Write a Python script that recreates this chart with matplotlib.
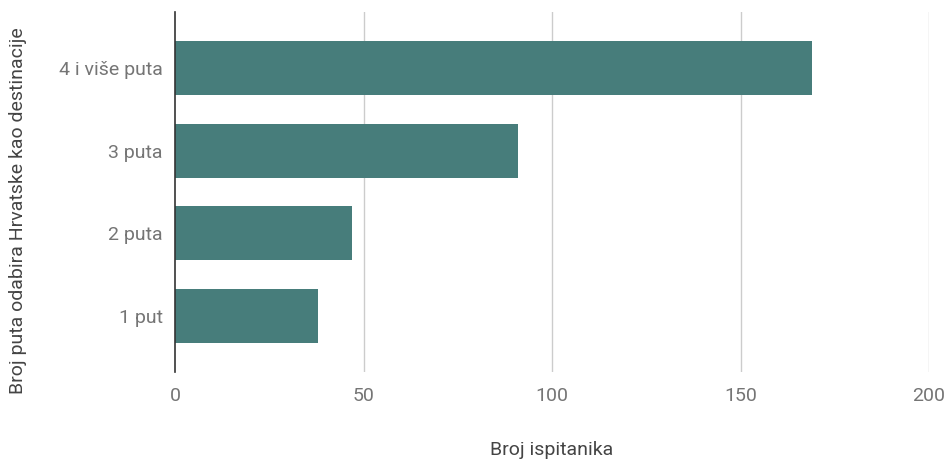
import numpy as np
import matplotlib.pyplot as plt

plt.rcParams['font.family'] = ['Roboto', 'DejaVu Sans']

#=== Data ===#
categories = ['1 put', '2 puta', '3 puta', '4 i više puta']
counts = [38, 47, 91, 169]
x_ticks = [0, 50, 100, 150, 200]

bar_color = '#477d7b'

fig = plt.figure(figsize=(9.46, 4.59), dpi=100)
ax = fig.add_axes([175/946, (459-372)/459, (929-175)/946, 360/459])

y_pos = np.arange(len(categories))
ax.barh(y_pos, counts, height=0.65, color=bar_color, zorder=3)

ax.set_xlim(0, 200)
ax.set_ylim(-0.68, 3.68)
ax.set_xticks(x_ticks)
ax.set_yticks(y_pos)
ax.set_yticklabels(categories)

#=== Grid and spines ===#
for v in x_ticks[1:]:
    ax.axvline(v, color='#cccccc', linewidth=1, zorder=1)
for s in ['top', 'right', 'bottom']:
    ax.spines[s].set_visible(False)
ax.spines['left'].set_color('#333333')
ax.spines['left'].set_linewidth(1.2)
ax.spines['left'].set_zorder(4)

ax.tick_params(axis='both', length=0, labelsize=14, colors='#757575')
ax.tick_params(axis='x', pad=11)
ax.tick_params(axis='y', pad=9)

ax.set_xlabel('Broj ispitanika', fontsize=14, color='#444444', labelpad=26)
fig.text(18/946, 1 - 211/459, 'Broj puta odabira Hrvatske kao destinacije',
         rotation=90, ha='center', va='center', fontsize=14, color='#444444')

plt.savefig('out.png', dpi=100)
